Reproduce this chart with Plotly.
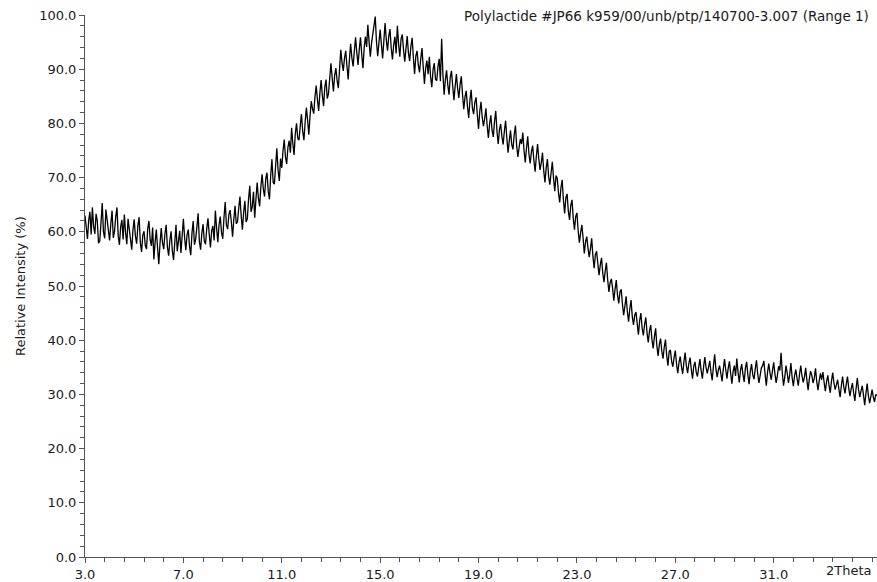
import numpy as np
import plotly.graph_objects as go

# Scan grid (2Theta, degrees)
two_theta_start = 3.0
two_theta_step = 0.05

# Relative intensity (%), one row per degree
intensity = [
    63.0, 60.2, 58.7, 62.1, 63.7, 59.5, 64.5, 61.0, 59.6, 63.3, 62.0, 57.9, 58.3, 61.6, 65.3, 60.0, 58.8, 64.1, 62.2, 59.7,  # 3
    58.4, 61.5, 63.9, 58.9, 60.1, 62.8, 64.5, 59.3, 57.6, 60.9, 62.2, 58.6, 63.2, 59.8, 57.7, 62.4, 60.6, 58.2, 56.7, 60.3,  # 4
    62.3, 59.2, 57.8, 61.1, 62.7, 58.0, 56.3, 59.4, 60.1, 57.5, 56.8, 60.6, 62.0, 58.5, 57.4, 60.8, 54.9, 58.1, 60.4, 57.0,  # 5
    54.0, 57.9, 60.7, 58.0, 56.8, 59.6, 61.3, 57.2, 55.6, 58.4, 60.1, 56.5, 54.8, 58.0, 61.3, 56.4, 58.9, 60.2, 56.1, 59.3,  # 6
    62.4, 58.9, 56.6, 59.5, 60.4, 57.3, 55.7, 59.8, 62.0, 57.6, 58.7, 60.9, 63.4, 58.2, 56.7, 59.7, 61.4, 58.3, 57.7, 60.6,  # 7
    62.5, 59.6, 57.1, 60.2, 61.1, 58.4, 63.9, 60.7, 58.1, 61.3, 62.8, 59.9, 58.7, 62.6, 65.5, 61.2, 60.5, 63.2, 64.0, 61.8,  # 8
    59.1, 62.3, 64.8, 61.5, 61.8, 64.4, 66.5, 62.9, 60.4, 63.6, 65.7, 61.8, 62.4, 66.1, 68.5, 63.7, 64.6, 67.4, 62.6, 66.0,  # 9
    69.1, 66.2, 64.7, 68.3, 70.6, 67.9, 66.5, 69.8, 70.9, 67.5, 66.0, 70.4, 73.4, 69.1, 68.8, 72.2, 75.4, 71.3, 69.4, 73.5,  # 10
    71.8, 74.9, 77.0, 73.8, 72.5, 75.6, 76.8, 74.6, 79.2, 76.3, 74.2, 78.1, 80.0, 77.2, 76.9, 79.5, 81.7, 78.6, 76.9, 80.2,  # 11
    82.9, 80.6, 77.9, 81.4, 84.1, 82.7, 81.8, 84.9, 87.0, 84.4, 82.3, 85.6, 88.0, 85.1, 83.2, 86.7, 88.1, 84.6, 85.5, 88.3,  # 12
    91.1, 88.4, 85.9, 88.8, 90.2, 87.9, 86.5, 90.1, 93.6, 91.2, 89.7, 92.0, 93.4, 90.6, 88.1, 91.8, 94.7, 92.1, 90.5, 93.3,  # 13
    95.9, 93.1, 90.8, 93.6, 95.9, 92.8, 90.2, 93.9, 96.0, 94.1, 98.2, 95.0, 92.3, 94.8, 96.2, 97.6, 99.7, 95.1, 92.4, 94.9,  # 14
    97.3, 94.6, 92.0, 95.2, 98.5, 95.4, 93.4, 96.1, 97.4, 93.9, 91.8, 94.5, 96.0, 92.9, 98.0, 94.7, 92.3, 95.6, 96.4, 93.6,  # 15
    91.4, 93.8, 96.1, 93.0, 91.5, 94.2, 95.8, 92.2, 89.1, 92.4, 93.4, 90.8, 89.4, 91.9, 93.9, 90.5, 87.3, 90.2, 91.6, 89.1,  # 16
    92.3, 88.6, 86.7, 89.9, 91.1, 88.1, 87.9, 90.5, 91.9, 87.8, 95.6, 89.2, 85.3, 88.0, 89.8, 87.1, 85.3, 88.5, 89.7, 86.9,  # 17
    84.3, 86.9, 89.1, 86.4, 84.7, 87.2, 88.7, 85.3, 82.6, 84.9, 86.0, 83.1, 81.0, 84.3, 86.2, 82.8, 81.7, 83.9, 84.8, 81.6,  # 18
    79.0, 82.2, 84.0, 81.1, 79.5, 80.9, 82.8, 79.6, 77.3, 79.9, 81.5, 78.7, 77.5, 80.4, 82.3, 78.5, 76.2, 78.9, 79.9, 77.6,  # 19
    76.1, 78.6, 80.5, 77.3, 74.6, 76.8, 78.7, 76.1, 75.2, 77.9, 79.6, 75.9, 73.8, 75.6, 77.1, 76.2, 78.3, 74.9, 72.8, 75.5,  # 20
    77.6, 74.3, 72.6, 74.8, 75.9, 73.2, 71.1, 73.9, 76.2, 73.5, 71.4, 72.7, 74.6, 71.3, 69.1, 71.8, 73.4, 70.2, 68.7, 70.9,  # 21
    72.9, 69.8, 67.5, 70.4, 69.9, 67.2, 65.4, 68.1, 69.6, 65.9, 63.4, 66.3, 67.0, 63.8, 62.2, 64.9, 65.9, 62.5, 60.4, 62.8,  # 22
    63.5, 60.2, 58.0, 59.8, 61.3, 58.9, 56.0, 58.1, 59.1, 57.0, 55.3, 56.9, 58.8, 55.5, 53.3, 55.8, 56.4, 54.1, 52.0, 53.9,  # 23
    55.2, 52.4, 50.7, 52.8, 54.3, 51.2, 48.9, 50.6, 51.3, 49.6, 47.3, 49.4, 51.1, 48.3, 46.8, 48.9, 49.4, 46.7, 44.6, 46.3,  # 24
    48.1, 45.3, 43.4, 45.8, 47.4, 44.4, 42.8, 44.6, 45.2, 43.1, 41.0, 43.6, 45.0, 42.2, 40.9, 42.9, 44.2, 41.4, 39.6, 41.7,  # 25
    42.8, 40.1, 38.5, 40.6, 42.2, 39.0, 37.1, 39.2, 40.3, 38.0, 36.6, 38.7, 40.1, 37.2, 35.3, 37.9, 38.2, 36.1, 35.1, 36.8,  # 26
    38.1, 35.6, 33.9, 35.9, 37.0, 35.1, 33.8, 36.0, 37.7, 35.3, 33.9, 35.7, 36.8, 34.6, 32.9, 35.2, 36.0, 34.1, 33.3, 35.0,  # 27
    36.5, 34.4, 32.9, 35.1, 36.9, 34.9, 33.9, 35.0, 36.2, 34.1, 32.6, 35.2, 37.4, 34.7, 33.2, 34.5, 35.3, 33.9, 32.4, 34.6,  # 28
    36.5, 34.6, 32.9, 34.8, 36.1, 33.9, 32.0, 34.2, 35.3, 33.4, 36.6, 34.1, 32.2, 34.5, 35.6, 33.7, 32.3, 34.9, 36.0, 33.6,  # 29
    31.9, 34.3, 35.6, 33.6, 32.8, 34.7, 36.3, 33.8, 32.1, 33.5, 34.9, 35.3, 36.2, 33.7, 31.6, 34.1, 35.7, 33.9, 32.7, 34.4,  # 30
    35.9, 33.8, 32.1, 33.5, 35.2, 34.4, 37.7, 34.0, 31.6, 33.2, 35.3, 33.9, 32.1, 33.6, 35.8, 33.1, 31.5, 33.5, 34.6, 32.9,  # 31
    31.6, 33.7, 35.3, 33.4, 32.2, 33.2, 34.9, 32.6, 30.8, 32.9, 34.3, 33.5, 32.1, 33.0, 34.8, 32.4, 30.8, 32.5, 33.9, 32.7,  # 32
    34.1, 32.2, 30.6, 32.4, 33.5, 31.6, 30.3, 32.5, 34.0, 32.1, 30.9, 31.8, 32.7, 31.0, 29.5, 31.6, 33.3, 31.4, 30.2, 31.9,  # 33
    33.3, 31.2, 29.7, 31.0, 32.1, 30.3, 28.8, 31.1, 33.0, 30.9, 29.5, 30.6, 31.6, 29.9, 28.0, 30.2, 32.0, 29.8, 28.4, 29.6,  # 34
    30.9, 29.5, 28.6, 30.0, 29.8,                                                                                             # 35
]

two_theta = np.round(two_theta_start + two_theta_step * np.arange(len(intensity)), 3)

x_tickvals = [3.0, 7.0, 11.0, 15.0, 19.0, 23.0, 27.0, 31.0]
y_tickvals = [0, 10, 20, 30, 40, 50, 60, 70, 80, 90, 100]

title_text = "Polylactide #JP66 k959/00/unb/ptp/140700-3.007 (Range 1)"
y_title = "Relative Intensity (%)"
x_end_label = "2Theta"

FONT = "DejaVu Sans"
TXT = "#1a1a1a"
AX = "#555555"

fig = go.Figure()
fig.add_trace(go.Scatter(
    x=two_theta, y=intensity, mode="lines",
    line=dict(color="black", width=1.3),
    hoverinfo="skip", showlegend=False,
))

fig.update_layout(
    width=877, height=582,
    margin=dict(l=85, r=0, t=15, b=21),
    paper_bgcolor="white", plot_bgcolor="white",
    font=dict(family=FONT, size=13, color=TXT),
    showlegend=False,
)

fig.update_xaxes(
    range=[3.0, 35.2],
    tickvals=x_tickvals, ticktext=[f"{v:.1f}" for v in x_tickvals],
    ticks="outside", ticklen=5, tickwidth=1, tickcolor=AX,
    minor=dict(ticks="outside", ticklen=4, tickwidth=1, tickcolor=AX,
               tick0=3.0, dtick=0.8),
    showline=True, linecolor=AX, linewidth=1,
    showgrid=False, zeroline=False,
    tickfont=dict(family=FONT, size=13, color=TXT),
)
fig.update_yaxes(
    range=[0, 100],
    tickvals=y_tickvals, ticktext=[f"{v:.1f}" for v in y_tickvals],
    ticks="outside", ticklen=5, tickwidth=1, tickcolor=AX,
    minor=dict(ticks="outside", ticklen=4, tickwidth=1, tickcolor=AX,
               tick0=0, dtick=2),
    showline=True, linecolor=AX, linewidth=1,
    showgrid=False, zeroline=False,
    tickfont=dict(family=FONT, size=13, color=TXT),
)

fig.add_annotation(
    text=title_text, xref="paper", yref="paper", x=1, y=1,
    xanchor="right", yanchor="middle", xshift=-6, yshift=-1,
    showarrow=False, font=dict(family=FONT, size=13.5, color=TXT),
)
fig.add_annotation(
    text=y_title, xref="paper", yref="paper", x=-0.082, y=0.5,
    xanchor="center", yanchor="middle", textangle=-90,
    showarrow=False, font=dict(family=FONT, size=13, color=TXT),
)
fig.add_annotation(
    text=x_end_label, xref="paper", yref="paper", x=1, y=0,
    xanchor="right", yanchor="top", xshift=-3, yshift=-4,
    showarrow=False, font=dict(family=FONT, size=13, color=TXT),
)

fig.write_html("out.html")
